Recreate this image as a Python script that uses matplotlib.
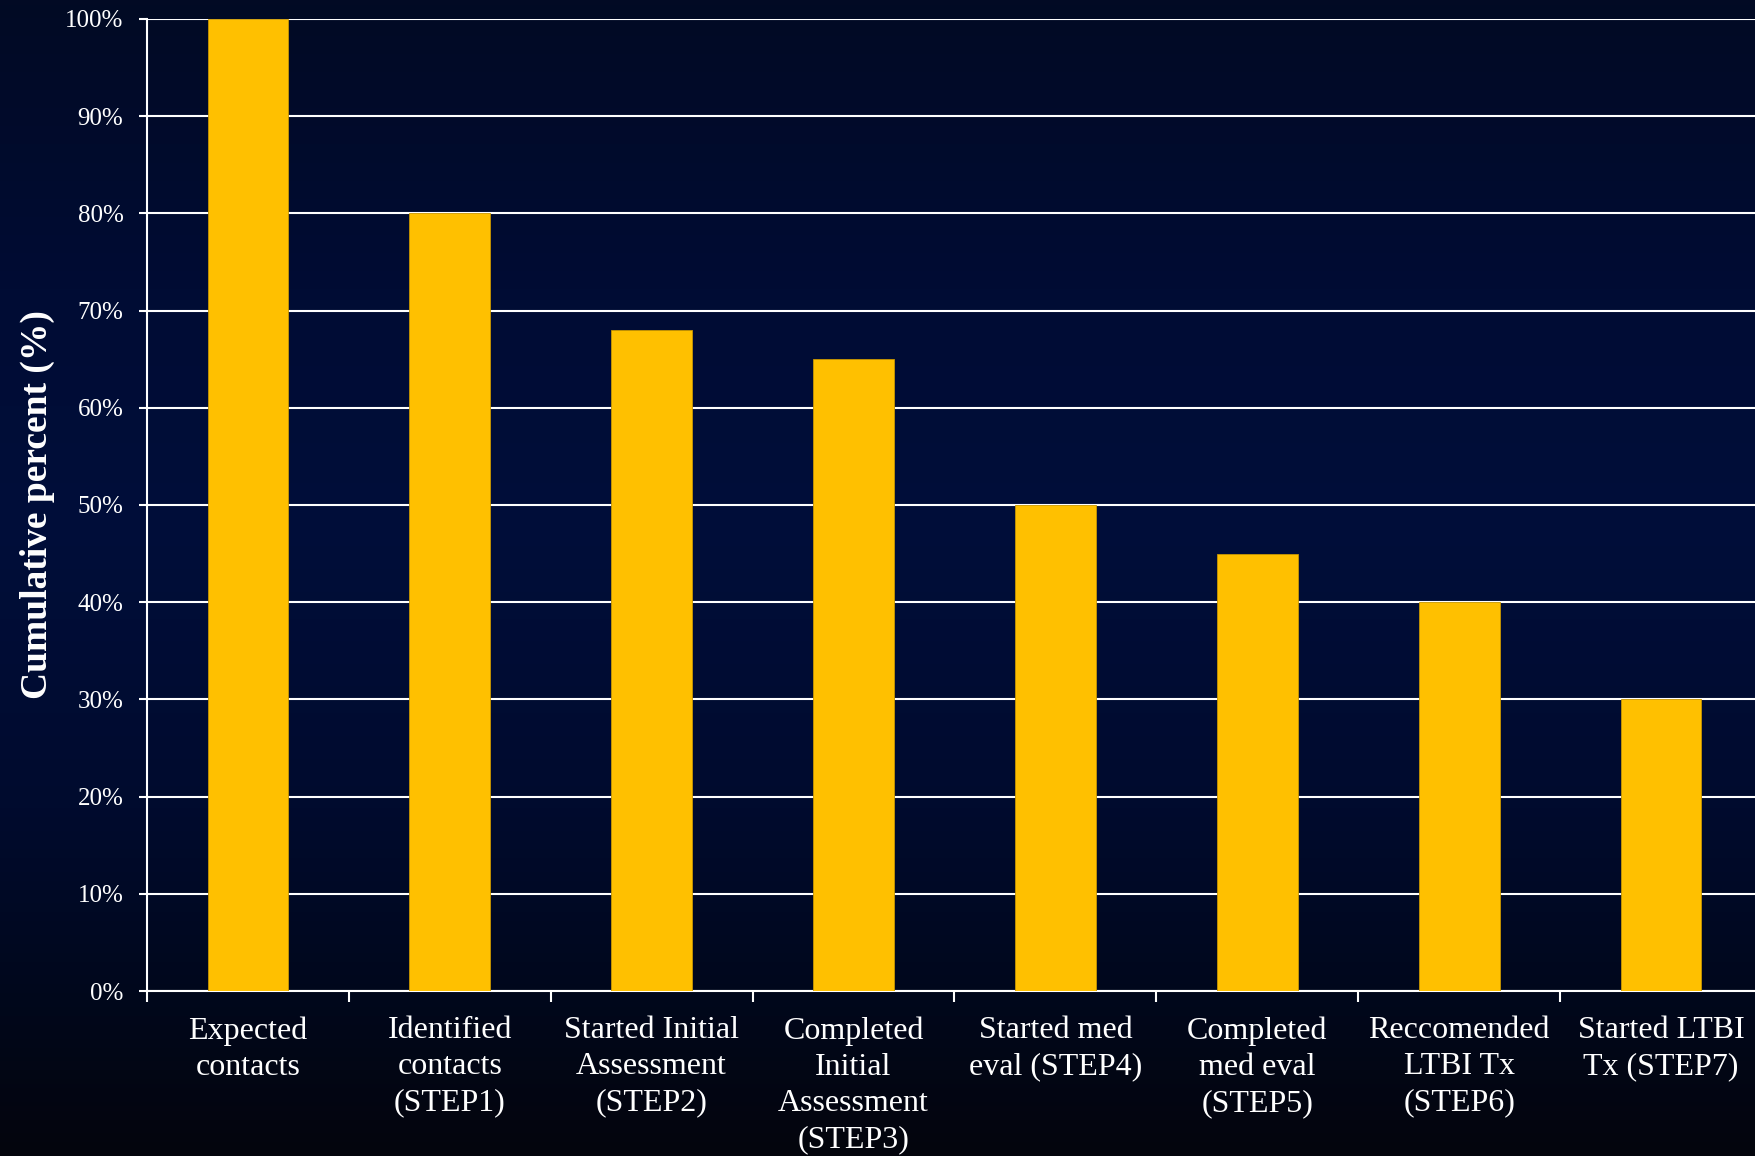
import matplotlib
matplotlib.use("Agg")
import matplotlib.pyplot as plt
import numpy as np
from matplotlib.colors import LinearSegmentedColormap
from matplotlib.ticker import FixedLocator

# funnel steps and cumulative percent
steps = ["Expected\ncontacts", "Identified\ncontacts\n(STEP1)",
         "Started Initial\nAssessment\n(STEP2)",
         "Completed\nInitial\nAssessment\n(STEP3)",
         "Started med\neval (STEP4)", "Completed\nmed eval\n(STEP5)",
         "Reccomended\nLTBI Tx\n(STEP6)", "Started LTBI\nTx (STEP7)"]
percents = [100, 80, 68, 65, 50, 45, 40, 30]
yticks = list(range(0, 101, 10))
ytick_labels = [f"{v}%" for v in yticks]

plt.rcParams["font.family"] = ["Liberation Serif", "DejaVu Serif"]

W, H = 1756, 1156
fig = plt.figure(figsize=(W / 100, H / 100), dpi=100)

# background gradient (top -> bottom)
bg = fig.add_axes([0, 0, 1, 1], zorder=-10)
cmap = LinearSegmentedColormap.from_list("bg", [
    (0.0, "#020a24"), (0.25, "#000c34"), (0.45, "#000e3a"),
    (0.7, "#000b2e"), (0.88, "#01071a"), (1.0, "#04050d")])
grad = np.linspace(0, 1, 256).reshape(-1, 1)
bg.imshow(grad, aspect="auto", cmap=cmap, extent=[0, 1, 0, 1])
bg.set_axis_off()

left, right, top, bottom = 147, 1762, 19, 991
ax = fig.add_axes([left / W, 1 - bottom / H, (right - left) / W, (bottom - top) / H])
ax.set_facecolor("none")

x = np.arange(len(steps))
ax.bar(x, percents, width=0.4, color="#FFC000", edgecolor="#c89600",
       linewidth=0.6, zorder=3)

ax.set_xlim(-0.5, len(steps) - 0.5)
ax.set_ylim(0, 100)

ax.set_yticks(yticks)
ax.set_yticklabels(ytick_labels)
ax.yaxis.grid(True, color="white", linewidth=1.5, zorder=1)
ax.set_axisbelow(True)

ax.set_xticks(x)
ax.set_xticklabels(steps, linespacing=1.33)
ax.xaxis.set_minor_locator(FixedLocator(np.arange(-0.5, len(steps), 1.0)))

ax.tick_params(axis="y", colors="white", labelsize=18, length=6, width=1.5, pad=11)
ax.tick_params(axis="x", which="major", colors="white", labelsize=23, length=0, pad=18)
ax.tick_params(axis="x", which="minor", colors="white", length=8, width=1.5)

for s in ["top", "right"]:
    ax.spines[s].set_visible(False)
for s in ["left", "bottom"]:
    ax.spines[s].set_color("white")
    ax.spines[s].set_linewidth(1.5)

fig.text(37 / W, 1 - 505 / H, "Cumulative percent (%)", rotation=90,
         color="white", fontsize=27, fontweight="bold",
         ha="center", va="center")

fig.savefig("out.png", dpi=100)
